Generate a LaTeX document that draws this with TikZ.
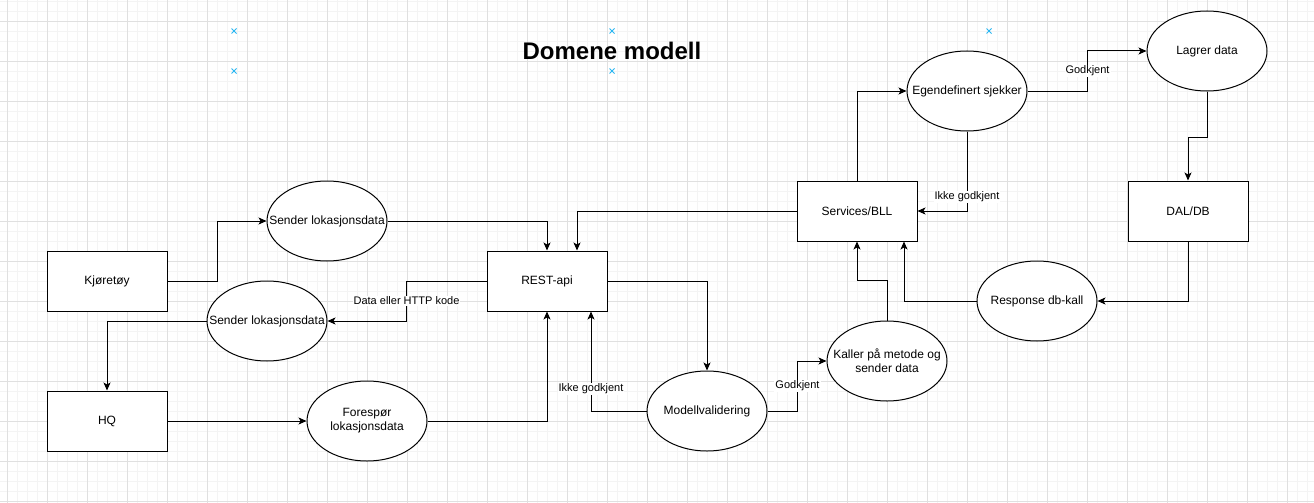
\documentclass[tikz,border=0pt]{standalone}
\usepackage{fontspec}
\setmainfont{Liberation Sans}
\usepackage{tikz}
\usetikzlibrary{positioning,arrows.meta,shapes.geometric}
\definecolor{gridmajor}{RGB}{224,224,224}
\definecolor{gridminor}{RGB}{244,244,244}
\definecolor{markblue}{RGB}{41,182,242}

\begin{document}
\begin{tikzpicture}[
x=1pt, y=-1pt,
node distance=80pt,
box/.style={draw, line width=1pt, fill=white, minimum width=120pt, minimum height=60pt, inner sep=0pt, font=\fontsize{12}{14}\selectfont},
oval/.style={draw, ellipse, line width=1pt, fill=white, minimum width=120pt, minimum height=80pt, inner xsep=-20pt, inner ysep=0pt, align=center, font=\fontsize{12}{14}\selectfont},
arrow/.style={-{Stealth[length=8pt, width=7pt, inset=2pt]}, line width=1pt},
lbl/.style={fill=white, inner sep=1pt, font=\fontsize{11}{13}\selectfont}
]
\useasboundingbox (0,0) rectangle (1314,503);
\fill[white] (0,0) rectangle (1314,503);
% grid
\foreach \gx in {-3,7,...,1313} \draw[gridminor, line width=1pt] (\gx,0) -- (\gx,503);
\foreach \gy in {0,10,...,500} \draw[gridminor, line width=1pt] (0,\gy+1.7) -- (1314,\gy+1.7);
\foreach \gx in {7,47,...,1287} \draw[gridmajor, line width=1pt] (\gx,0) -- (\gx,503);
\foreach \gy in {20,60,...,500} \draw[gridmajor, line width=1pt] (0,\gy+1.7) -- (1314,\gy+1.7);
\foreach \mx in {234,612,989}
  \foreach \my in {31,71}
    \draw[markblue, line width=1pt] (\mx-2.5,\my-2.5) -- (\mx+2.5,\my+2.5) (\mx-2.5,\my+2.5) -- (\mx+2.5,\my-2.5);

\node[font=\fontsize{24}{28}\selectfont\bfseries] (title) at (612,51) {Domene modell};

\node[box] (kjoretoy) at (107,281) {Kjøretøy};
\node[box] (hq) at (107,421) {HQ};
\node[box] (rest) at (547,281) {REST-api};
\node[box] (services) at (857,211) {Services/BLL};
\node[box, right=210pt of services] (dal) {DAL/DB};

\node[oval] (sendfra) at (327,221) {Sender lokasjonsdata};
\node[oval] (sendtil) at (267,321) {Sender lokasjonsdata};
\node[oval] (foresp) at (367,421) {Forespør\\lokasjonsdata};
\node[oval] (modell) at (707,411) {Modellvalidering};
\node[oval] (kaller) at (887,361) {Kaller på metode og\\sender data};
\node[oval] (response) at (1037,301) {Response db-kall};
\node[oval] (egen) at (967,91) {Egendefinert sjekker};
\node[oval] (lagrer) at (1207,51) {Lagrer data};

\draw[arrow] (kjoretoy.east) -- ++(50,0) |- (sendfra.west);
\draw[arrow] (sendfra.east) -| (rest.north);
\draw[arrow] (services.west) -| ([xshift=30pt]rest.north);
\draw[arrow] (rest.west) -- ++(-80,0) |- (sendtil.east) node[lbl, pos=0.25] (lblhttp) {Data eller HTTP kode};
\draw[arrow] (sendtil.west) -| (hq.north);
\draw[arrow] (hq.east) -- (foresp.west);
\draw[arrow] (foresp.east) -| (rest.south);
\draw[arrow] (modell.west) -| ([xshift=44pt]rest.south) node[lbl, pos=0.61] (lblikke1) {Ikke godkjent};
\draw[arrow] (rest.east) -| (modell.north);
\draw[arrow] (modell.east) -- ++(30,0) |- (kaller.west) node[lbl, pos=0.25] (lblgod1) {Godkjent};
\draw[arrow] (kaller.north) -- ++(0,-40) -| (services.south);
\draw[arrow] (response.west) -| ([xshift=47pt]services.south);
\draw[arrow] (dal.south) |- (response.east);
\draw[arrow] (services.north) |- (egen.west);
\draw[arrow] (egen.south) |- (services.east) node[lbl, pos=0.41] (lblikke2) {Ikke godkjent};
\draw[arrow] (egen.east) -- ++(60,0) |- (lagrer.west) node[lbl, pos=0.25] (lblgod2) {Godkjent};
\draw[arrow] (lagrer.south) -- ++(0,46) -| (dal.north);
\end{tikzpicture}
\end{document}
